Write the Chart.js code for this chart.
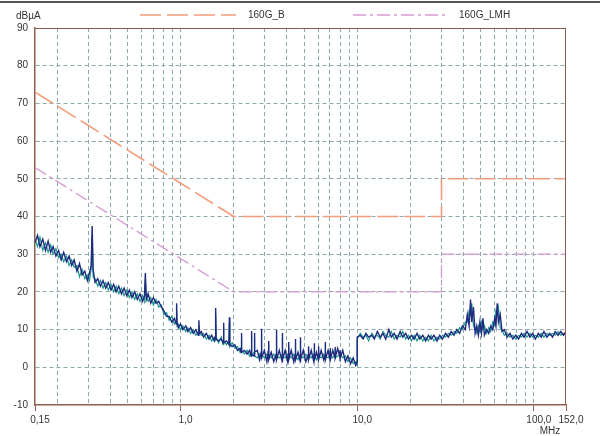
<!DOCTYPE html>
<html>
<head>
<meta charset="utf-8">
<script src="https://cdn.jsdelivr.net/npm/chart.js@4/dist/chart.umd.min.js"></script>
<style>
  html, body { margin: 0; padding: 0; background: #fff; }
  #wrap { width: 600px; height: 436px; }
</style>
</head>
<body>
<div id="wrap"><canvas id="emcChart" width="600" height="436"></canvas></div>
<script>
// frequency points of the measured trace (MHz)
const freqs = [
  0.150,0.155,0.160,0.166,0.172,0.178,0.184,0.190,0.197,0.204,
  0.211,0.218,0.226,0.234,0.242,0.250,0.259,0.268,0.277,0.287,
  0.297,0.305,0.312,0.316,0.320,0.328,0.340,0.352,0.364,0.377,
  0.390,0.404,0.418,0.432,0.447,0.463,0.479,0.496,0.513,0.531,
  0.550,0.569,0.589,0.610,0.625,0.632,0.640,0.655,0.678,0.702,
  0.726,0.752,0.778,0.805,0.833,0.862,0.892,0.923,0.945,0.950,
  0.955,0.970,1.00,
  1.03,1.07,1.10,1.14,1.18,1.22,1.26,1.27,1.28,1.31,
  1.35,1.40,1.45,1.50,1.55,1.57,1.58,1.59,1.64,1.70,
  1.74,1.75,1.76,1.82,1.88,1.89,1.90,1.96,2.03,2.10,
  2.17,2.20,2.21,2.22,2.30,2.38,2.46,2.51,2.52,2.53,
  2.61,2.62,2.63,2.72,2.80,2.86,2.87,2.88,2.98,3.08,
  3.14,3.15,3.16,3.26,3.37,3.48,3.49,3.50,3.62,3.76,
  3.77,3.78,3.91,4.04,4.08,4.09,4.10,4.23,4.37,4.46,
  4.47,4.48,4.62,4.76,4.77,4.78,4.95,5.12,5.29,5.30,
  5.31,5.49,5.68,5.71,5.72,5.73,5.88,6.03,6.04,6.05,
  6.25,6.46,6.59,6.60,6.61,6.84,7.03,7.04,7.05,7.27,
  7.49,7.50,7.51,7.75,7.99,8.00,8.01,8.28,8.57,8.86,
  9.17,9.49,9.80,9.99,10.0,
  10.0,10.4,10.8,11.2,11.6,12.1,12.5,13.0,13.5,14.0,
  14.5,15.1,15.6,16.2,16.8,17.5,18.1,18.8,19.5,20.3,
  21.0,21.8,22.6,23.5,24.4,25.3,26.2,27.2,28.3,29.3,
  30.4,31.6,32.8,34.0,35.3,36.6,38.0,39.4,40.9,42.0,
  43.0,43.8,44.5,45.5,46.5,47.5,48.5,49.5,50.5,51.5,
  52.5,54.0,55.5,57.0,58.5,60.0,61.0,62.0,63.0,64.5,
  66.0,68.0,70.6,73.3,76.0,79.0,82.0,85.0,88.0,91.5,
  95.0,98.5,102,106,110,114,118.5,123,127.5,132,
  137,142,147,152
];

// dBuA, dark blue trace
const traceBlue = [
  33,35,32,34,31,33.5,30.5,32,29.5,31,
  28.5,30.5,28,29.5,27,28.5,25.5,27.5,24.5,25.5,
  23,25,27,37.5,26,22.5,23.5,21.5,23,21,
  22.5,20.5,22,20,21.5,19.5,21,19,20.5,18.5,
  20,18,19.5,17.5,19,25,18,19.5,17,18.5,
  17,17.5,16,15,13.5,13.5,12,13,11.5,17,
  12,10.5,11.5,
  10,11,9.5,10.5,9,10,8.5,12.5,9,9.5,
  8,9,7.5,8.5,7,8,15.7,7.5,7,7.5,
  6.5,11.8,6.5,7,6,13.3,6,5.5,6,4.5,
  5,4,9.1,4,4.5,3.5,4.5,3,9.6,3.5,
  3,9.1,4,4.5,2,4,10.2,2.5,4.5,1.5,
  4.5,7,2,4,1.5,3.5,9.9,2,4.5,1.5,
  9.1,2,4.5,1.5,3.5,6.7,2,4.5,1.5,3.5,
  7.5,2,4,1.5,8,2,4.5,1.5,3.5,5.6,
  2,4.5,1.5,3.5,6.4,2,4,2,5.6,2,
  4.5,2,3.5,6.7,2,4.5,2,5.1,2,4.5,
  2.5,5.4,2.5,5,2.5,4.6,2.5,4.5,1.5,3,
  1,2.5,0.5,1.5,1,
  8,8.5,7.5,9,8,8.5,7.5,9.5,8,9,
  7.5,10,8,9,7.5,9.5,8,9,7.5,8.5,
  7.5,9,7.5,8.5,7,8.5,7.5,8.5,7,8.5,
  7.5,9,8,9.5,8.5,10,9,11,10,14,
  11,18,12,16,9,11,8.5,12,9,13,
  8.5,10,9,11,10,13,11,17,12,14,
  9.5,10,8,9,7.5,8.5,7.5,9,8,9.5,
  8,9,7.5,9,8,9.5,8,9,8,9.5,
  8.5,9.5,8.5,9.5
];

// dBuA, green trace
const traceGreen = [
  34,32,34.5,31,33,30.5,32.5,30,31.5,29,
  30,28,29.5,27,28.5,26.5,27,24,26,23.5,
  24.5,23,26,35,24,23.5,21.5,23,21,22.5,
  20.5,22,20,21.5,19.5,21,19,20.5,18.5,20,
  18,19.5,17.5,19,17.5,23,19,17.5,18.5,16.5,
  18,16,16.5,14,14.5,12.5,13.5,11.5,12.5,15,
  11,11.5,10,
  11,9.5,10.5,9,10,8.5,9.5,11,9.5,8.5,
  9,7.5,8.5,7,8,7,14,8,6.5,8,
  6,10.5,7,6,7,12,5.5,6.5,5,5.5,
  4,5,8,4.5,3.5,4.5,3,4,8.5,3,
  4,8,3,2.5,3.5,2.5,9,3.5,2.5,3.5,
  2.5,6,3,2.5,3.5,2,8.5,3,2.5,3.5,
  8,3,2.5,3.5,2,6,3,2.5,3.5,2,
  6.5,3,2,3.5,7,3,2.5,3.5,2,5,
  3,2.5,3.5,2,5.5,3,2,3.5,5,3,
  2.5,3.5,2,6,3,2.5,3.5,4.5,3,2.5,
  3.5,5,2.5,3,3.5,4,3.5,2.5,3,1.5,
  2.5,1,1.5,0.5,1,
  7.5,9,8,8.5,7,9,8,8.5,7.5,9.5,
  8.5,8,9.5,7.5,8.5,8,9.5,7.5,8.5,7,
  8.5,7,8.5,7,8,7,8.5,7,8,7.5,
  8.5,8,9,8.5,9.5,9,10.5,10,12,12,
  15,14,17,11,10,9,11,9.5,12,10,
  11,9,10.5,9.5,12,11,15,14,16,10.5,
  10,8.5,9,8,8.5,7.5,8.5,8,9,8,
  9,8,8.5,8,9,8,9,8.5,9,8.5,
  9.5,8.5,9,8.5
];

// limit lines
const limitFreqs = [0.15, 2, 30, 30, 152];
const limitB = [73, 40, 40, 50, 50];
const limitLMH = [53, 20, 20, 30, 30];

const xTickValues = [0.15, 0.2, 0.3, 0.4, 0.5, 0.6, 0.7, 0.8, 0.9,
  1, 2, 3, 4, 5, 6, 7, 8, 9, 10, 20, 30, 40, 50, 60, 70, 80, 90, 100, 152];
const xLabelValues = [0.15, 1, 10, 100, 152];

const axisBrown = '#8e5e4e';
const gridColor = '#8fa8ad';
const textColor = '#333';
const fontFamily = '"Liberation Sans", Arial, sans-serif';

function toPoints(xs, ys) {
    return xs.map((x, i) => ({ x: x, y: ys[i] }));
}

function formatFreq(v) {
    return v < 1 ? v.toFixed(2).replace('.', ',') : v.toFixed(1).replace('.', ',');
}

const extrasPlugin = {
    id: 'extras',
    afterDraw(chart) {
        const ctx = chart.ctx;
        const area = chart.chartArea;
        ctx.save();
        // outer frame line on top
        ctx.fillStyle = '#555';
        ctx.fillRect(0, 1, 600, 2);
        // top and right plot border
        ctx.strokeStyle = axisBrown;
        ctx.lineWidth = 1;
        ctx.beginPath();
        ctx.moveTo(area.left, area.top + 0.5);
        ctx.lineTo(area.right, area.top + 0.5);
        ctx.moveTo(area.right - 0.5, area.top);
        ctx.lineTo(area.right - 0.5, area.bottom);
        ctx.stroke();
        // units
        ctx.fillStyle = textColor;
        ctx.font = '10px ' + fontFamily;
        ctx.textBaseline = 'middle';
        ctx.textAlign = 'left';
        ctx.fillText('dBµA', 16, 16);
        ctx.textAlign = 'center';
        ctx.fillText('MHz', 550, 431);
        // legend
        const items = [
            { ds: chart.data.datasets[2], x1: 140, x2: 236, tx: 248 },
            { ds: chart.data.datasets[3], x1: 353, x2: 447, tx: 459 }
        ];
        items.forEach(it => {
            ctx.strokeStyle = it.ds.borderColor;
            ctx.lineWidth = it.ds.borderWidth;
            ctx.setLineDash(it.ds.borderDash);
            ctx.beginPath();
            ctx.moveTo(it.x1, 15);
            ctx.lineTo(it.x2, 15);
            ctx.stroke();
            ctx.setLineDash([]);
            ctx.textAlign = 'left';
            ctx.fillText(it.ds.label, it.tx, 15);
        });
        ctx.restore();
    }
};

new Chart(document.getElementById('emcChart'), {
    type: 'line',
    data: {
        datasets: [{
            label: 'Messung 1',
            data: toPoints(freqs, traceBlue),
            borderColor: '#1f2a7e',
            borderWidth: 1.4,
            pointRadius: 0
        }, {
            label: 'Messung 2',
            data: toPoints(freqs, traceGreen),
            borderColor: '#1a9a8e',
            borderWidth: 1.2,
            pointRadius: 0
        }, {
            label: '160G_B',
            data: toPoints(limitFreqs, limitB),
            borderColor: '#f59c7c',
            borderWidth: 1.6,
            borderDash: [21, 6],
            pointRadius: 0
        }, {
            label: '160G_LMH',
            data: toPoints(limitFreqs, limitLMH),
            borderColor: '#d69ad6',
            borderWidth: 1.3,
            borderDash: [13, 4, 3, 4],
            pointRadius: 0
        }]
    },
    options: {
        responsive: false,
        animation: false,
        layout: { padding: { top: 28, right: 34, left: 0, bottom: 0 } },
        plugins: {
            legend: { display: false },
            tooltip: { enabled: false }
        },
        scales: {
            x: {
                type: 'logarithmic',
                min: 0.15,
                max: 152,
                afterBuildTicks: scale => {
                    scale.ticks = xTickValues.map(v => ({ value: v }));
                },
                afterFit: scale => { scale.height = 31; },
                border: { color: axisBrown, width: 1.5, dash: [4, 3] },
                grid: {
                    color: c => (c.tick && (c.tick.value === 0.15 || c.tick.value === 152)) ? 'rgba(0,0,0,0)' : gridColor,
                    lineWidth: 1,
                    drawTicks: true,
                    tickLength: 6,
                    tickColor: c => (c.tick && xLabelValues.includes(c.tick.value)) ? axisBrown : 'rgba(0,0,0,0)',
                    tickWidth: 1
                },
                ticks: {
                    autoSkip: false,
                    maxRotation: 0,
                    padding: 3,
                    labelOffset: 5,
                    color: textColor,
                    font: { family: fontFamily, size: 10 },
                    callback: v => xLabelValues.includes(v) ? formatFreq(v) : ''
                }
            },
            y: {
                type: 'linear',
                min: -10,
                max: 90,
                afterFit: scale => { scale.width = 35; },
                border: { color: axisBrown, width: 1.5, dash: [4, 3] },
                grid: {
                    color: c => (c.tick && (c.tick.value === -10 || c.tick.value === 90)) ? 'rgba(0,0,0,0)' : gridColor,
                    lineWidth: 1,
                    drawTicks: false
                },
                ticks: {
                    stepSize: 10,
                    padding: 7,
                    color: textColor,
                    font: { family: fontFamily, size: 10 }
                }
            }
        }
    },
    plugins: [extrasPlugin]
});
</script>
</body>
</html>
